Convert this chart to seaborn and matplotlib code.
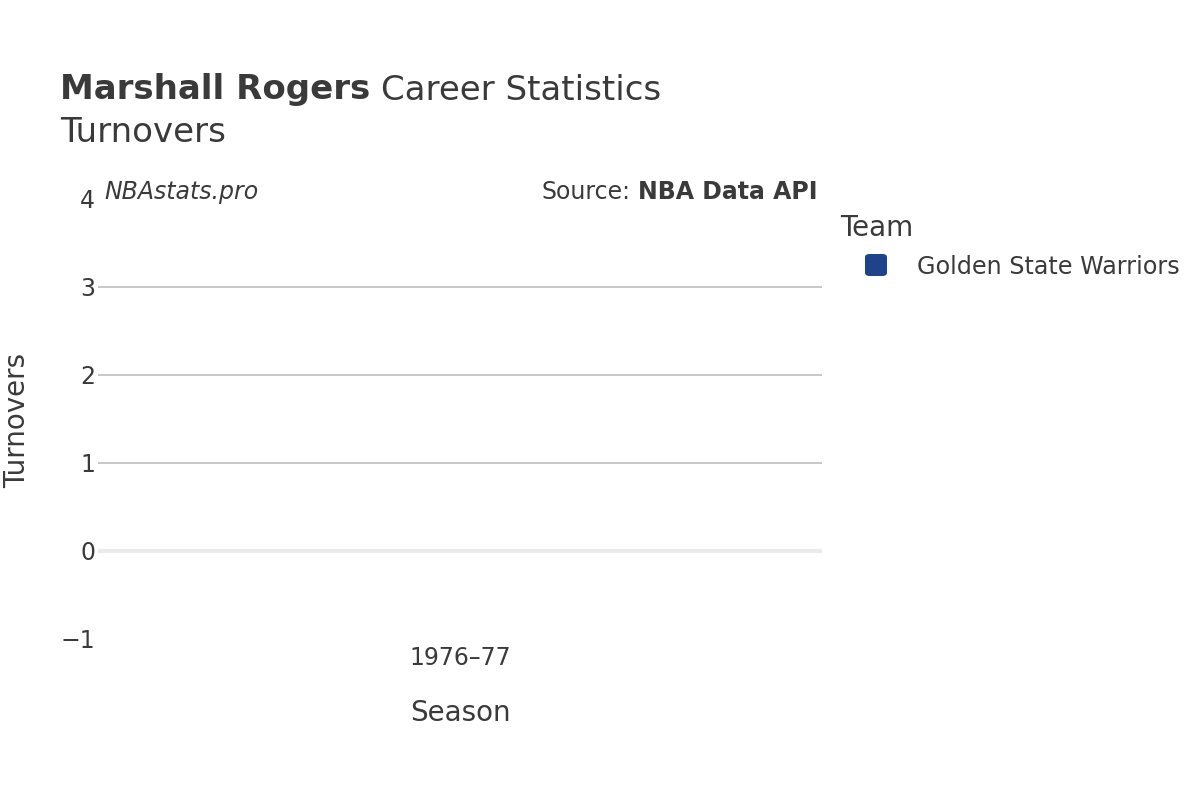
import numpy as np
import pandas as pd
import matplotlib
matplotlib.use("Agg")
import matplotlib.pyplot as plt
from matplotlib.patches import FancyBboxPatch
import seaborn as sns

# data: one season, no turnover values recorded
seasons = ["1976–77"]
turnovers = [np.nan]
teams = ["Golden State Warriors"]
team_colors = ["#1f438a"]
y_ticks = [-1, 0, 1, 2, 3, 4]

df = pd.DataFrame({"Season": seasons, "Turnovers": turnovers, "Team": teams})

sns.set_theme(style="white")
plt.rcParams["font.family"] = ["DejaVu Sans"]
TXT = "#3a3a3a"
W, H = 1200, 800


def fx(px):
    return px / W


def fy(px):
    return 1 - px / H


fig = plt.figure(figsize=(12, 8), dpi=100)
ax = fig.add_axes([fx(98), fy(639), (822 - 98) / W, (639 - 199) / H])

x_pos = np.arange(len(seasons))
sns.scatterplot(x=x_pos, y=df["Turnovers"], hue=df["Team"],
                palette=dict(zip(teams, team_colors)), s=120, ax=ax, legend=False)

ax.set_xlim(-0.5, len(seasons) - 0.5)
ax.set_ylim(min(y_ticks), max(y_ticks))
ax.set_xticks(x_pos)
ax.set_xticklabels(seasons)
ax.set_yticks(y_ticks)
ax.set_yticklabels([str(t).replace("-", "\u2212") for t in y_ticks])
ax.tick_params(axis="both", length=0, labelsize=17, labelcolor=TXT)
ax.tick_params(axis="x", pad=5)
ax.tick_params(axis="y", pad=2)
for s in ax.spines.values():
    s.set_visible(False)

for t in y_ticks:
    if t in (min(y_ticks), max(y_ticks)):
        continue
    if t == 0:
        ax.axhline(t, color="#ebebeb", lw=3, zorder=0)
    else:
        ax.axhline(t, color="#c4c4c4", lw=1.3, zorder=0)

ax.set_xlabel("Season", fontsize=20, color=TXT, labelpad=21)
ax.set_ylabel("")
fig.text(fx(17), fy(420), "Turnovers", rotation=90, fontsize=20,
         color=TXT, ha="center", va="center")

renderer = fig.canvas.get_renderer()

# titles
t1 = fig.text(fx(60), fy(90), "Marshall Rogers", fontsize=24.5, fontweight="bold",
              color=TXT, ha="left", va="center")
x_end = t1.get_window_extent(renderer).x1
fig.text((x_end + 11) / W, fy(90), "Career Statistics", fontsize=24.5,
         color=TXT, ha="left", va="center")
fig.text(fx(60), fy(133), "Turnovers", fontsize=24.5, color=TXT,
         ha="left", va="center")

fig.text(fx(104), fy(192), "NBAstats.pro", fontsize=17, style="italic",
         color=TXT, ha="left", va="center")
src = fig.text(fx(818), fy(192), "NBA Data API", fontsize=17, fontweight="bold",
               color=TXT, ha="right", va="center")
x_start = src.get_window_extent(renderer).x0
fig.text((x_start - 8) / W, fy(192), "Source:", fontsize=17, color=TXT,
         ha="right", va="center")

# legend
fig.text(fx(840), fy(228), "Team", fontsize=20, color=TXT, ha="left", va="center")
for i, (team, col) in enumerate(zip(teams, team_colors)):
    yc = 265 + i * 30
    box = FancyBboxPatch((fx(865), fy(yc + 11)), 22 / W, 22 / H,
                         boxstyle="round,pad=0,rounding_size=0.004",
                         transform=fig.transFigure, facecolor=col, edgecolor="none")
    fig.patches.append(box)
    fig.text(fx(917), fy(yc + 2), team, fontsize=17.2, color=TXT,
             ha="left", va="center")

fig.savefig("out.png", dpi=100)
